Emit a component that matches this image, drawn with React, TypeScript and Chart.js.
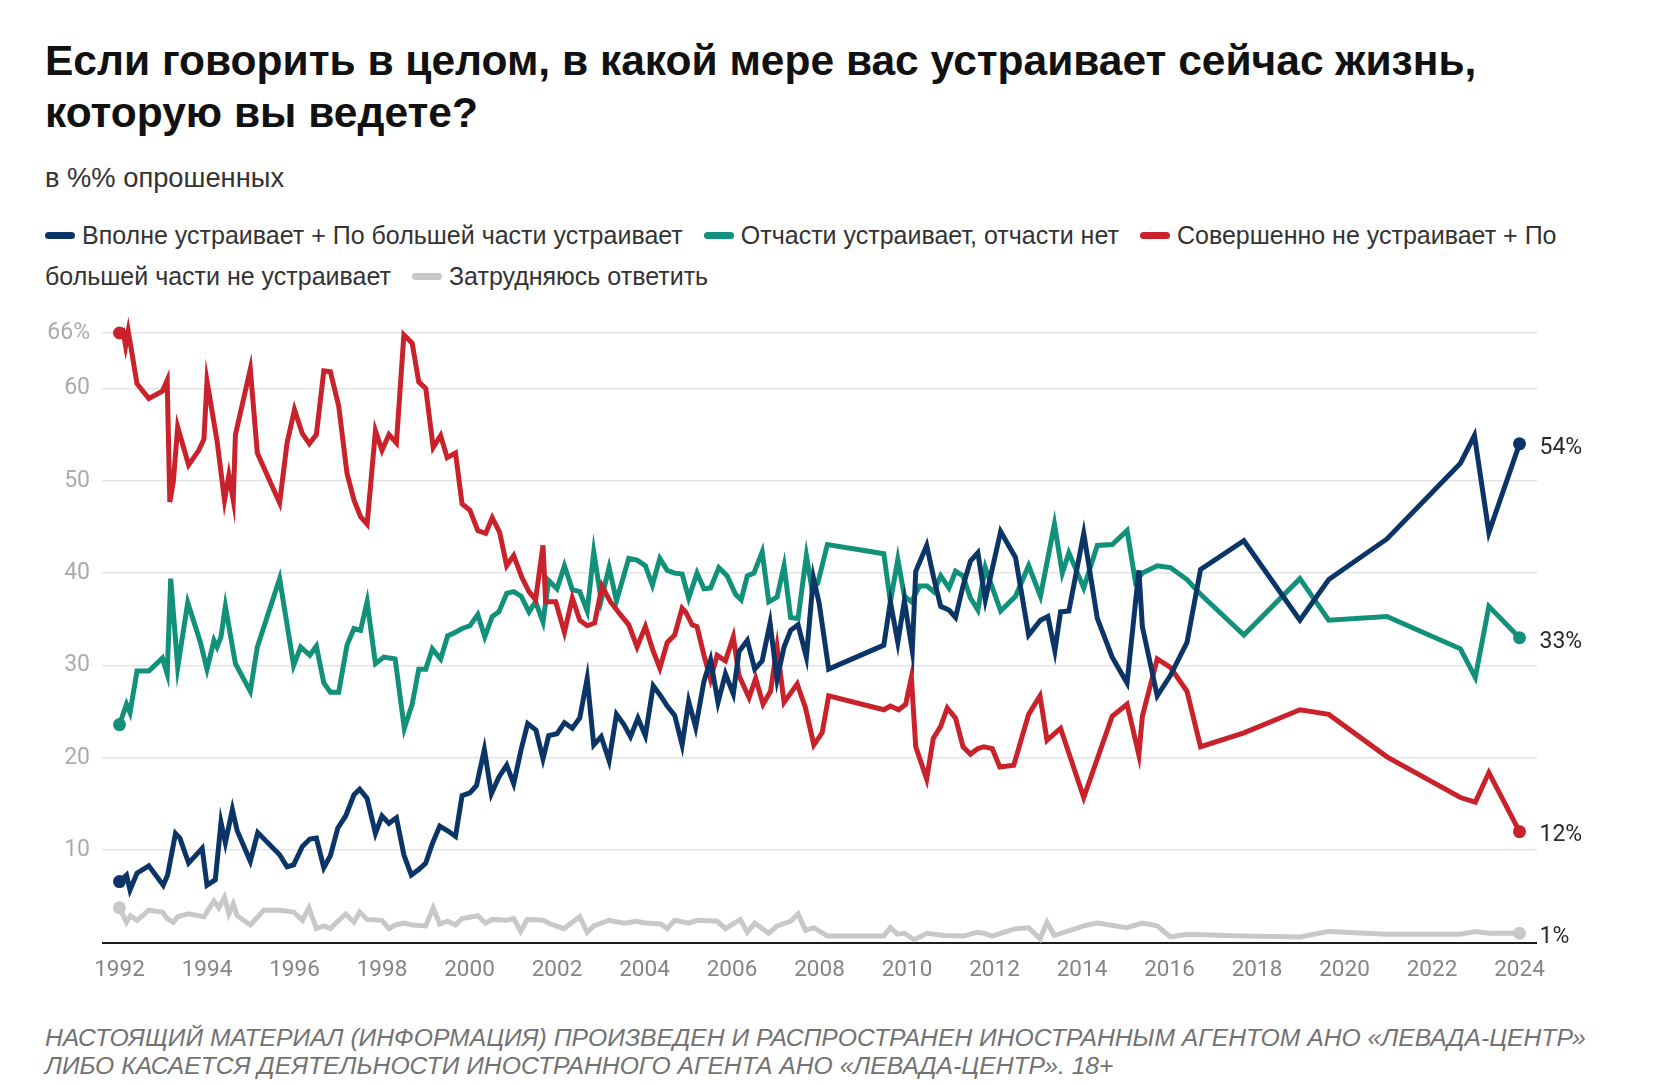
import React, { useEffect, useRef } from 'react';
import { Chart, registerables } from 'chart.js';

Chart.register(...registerables);

const NAVY = '#0b3566';
const TEAL = '#11907a';
const RED = '#c9222b';
const GRAY = '#c8c8c8';

const FONT_SANS = '"Liberation Sans", Arial, sans-serif';
const FONT_TICK = 'Roboto, "Liberation Sans", sans-serif';

const xTickYears = [1992, 1994, 1996, 1998, 2000, 2002, 2004, 2006, 2008, 2010, 2012, 2014, 2016, 2018, 2020, 2022, 2024];
const yTickValues = [0, 10, 20, 30, 40, 50, 60, 66];

const seriesNames = [
  'Вполне устраивает + По большей части устраивает',
  'Отчасти устраивает, отчасти нет',
  'Совершенно не устраивает + По большей части не устраивает',
  'Затрудняюсь ответить',
];

const blueDates = [
  1992.0, 1992.16, 1992.24, 1992.4, 1992.67, 1993.0, 1993.1, 1993.28, 1993.38, 1993.58, 1993.89, 1994.0, 1994.19,
  1994.32, 1994.42, 1994.58, 1994.69, 1994.99, 1995.16, 1995.66, 1995.83, 1995.98, 1996.18, 1996.35, 1996.5, 1996.67,
  1996.82, 1996.99, 1997.17, 1997.36, 1997.49, 1997.66, 1997.85, 1998.0, 1998.16, 1998.33, 1998.5, 1998.67, 1998.84,
  1999.0, 1999.15, 1999.32, 1999.5, 1999.68, 1999.83, 2000.01, 2000.16, 2000.34, 2000.5, 2000.67, 2000.85, 2001.01,
  2001.18, 2001.33, 2001.52, 2001.68, 2001.81, 2002.0, 2002.17, 2002.35, 2002.52, 2002.69, 2002.84, 2003.01, 2003.19,
  2003.36, 2003.53, 2003.68, 2003.85, 2004.02, 2004.2, 2004.37, 2004.52, 2004.69, 2004.86, 2005.01, 2005.17, 2005.36,
  2005.51, 2005.68, 2005.85, 2006.03, 2006.16, 2006.35, 2006.52, 2006.69, 2006.87, 2007.03, 2007.19, 2007.34, 2007.51,
  2007.7, 2007.86, 2007.99, 2008.21, 2009.47, 2009.62, 2009.79, 2009.94, 2010.12, 2010.2, 2010.45, 2010.61, 2010.77,
  2010.96, 2011.11, 2011.28, 2011.45, 2011.62, 2011.79, 2012.14, 2012.48, 2012.78, 2013.05, 2013.22, 2013.38, 2013.51,
  2013.7, 2014.04, 2014.35, 2014.69, 2015.03, 2015.3, 2015.38, 2015.72, 2016.02, 2016.4, 2016.71, 2017.7, 2018.98,
  2019.64, 2020.97, 2022.65, 2022.97, 2023.3, 2024.0,
];
const blueValues = [
  6.6, 7.3, 5.7, 7.5, 8.3, 6.2, 7.3, 11.8, 11.3, 8.6, 10.2, 6.2, 6.8,
  13.0, 10.8, 14.4, 12.1, 8.8, 11.9, 9.5, 8.2, 8.4, 10.4, 11.2, 11.3, 8.1,
  9.4, 12.4, 13.7, 16.0, 16.6, 15.6, 11.8, 13.7, 12.9, 13.5, 9.5, 7.3, 7.9,
  8.6, 10.7, 12.6, 12.1, 11.5, 15.9, 16.2, 17.0, 20.9, 16.1, 17.9, 19.2, 17.2,
  20.9, 23.7, 23.0, 19.9, 22.4, 22.6, 23.8, 23.2, 24.3, 28.6, 21.4, 22.3, 19.7,
  24.7, 23.6, 22.3, 24.3, 22.4, 27.8, 26.7, 25.6, 24.6, 21.4, 26.1, 23.3, 28.3,
  30.6, 26.0, 29.1, 26.9, 31.5, 32.7, 29.6, 30.5, 34.6, 28.5, 32.0, 33.8, 34.4,
  30.9, 39.5, 36.8, 29.6, 32.2, 36.9, 32.5, 37.0, 31.6, 40.2, 43.0, 39.5, 36.4,
  36.0, 35.2, 38.6, 41.3, 42.2, 37.1, 44.5, 41.7, 33.3, 34.9, 35.3, 31.6, 35.8,
  35.9, 44.3, 35.1, 30.9, 28.1, 40.3, 34.2, 26.7, 28.9, 32.5, 40.4, 43.5, 34.9,
  39.3, 43.7, 51.9, 54.9, 44.4, 54.0,
];

const greenDates = [
  1992.0, 1992.16, 1992.24, 1992.4, 1992.67, 1992.98, 1993.09, 1993.17, 1993.33, 1993.56, 1993.85, 1994.0, 1994.16,
  1994.23, 1994.32, 1994.42, 1994.65, 1994.99, 1995.15, 1995.66, 1995.98, 1996.14, 1996.35, 1996.5, 1996.67, 1996.82,
  1997.01, 1997.2, 1997.36, 1997.51, 1997.66, 1997.85, 1998.04, 1998.3, 1998.51, 1998.69, 1998.84, 1999.0, 1999.15,
  1999.34, 1999.5, 1999.68, 1999.83, 2000.01, 2000.19, 2000.35, 2000.52, 2000.67, 2000.85, 2001.01, 2001.18, 2001.36,
  2001.51, 2001.68, 2001.81, 2002.0, 2002.17, 2002.35, 2002.52, 2002.69, 2002.84, 2003.01, 2003.19, 2003.36, 2003.64,
  2003.83, 2004.02, 2004.18, 2004.35, 2004.52, 2004.69, 2004.86, 2005.01, 2005.2, 2005.36, 2005.51, 2005.7, 2005.89,
  2006.08, 2006.21, 2006.35, 2006.5, 2006.69, 2006.84, 2007.03, 2007.19, 2007.34, 2007.51, 2007.7, 2007.83, 2007.96,
  2008.18, 2009.47, 2009.62, 2009.79, 2009.94, 2010.1, 2010.29, 2010.46, 2010.61, 2010.77, 2010.96, 2011.11, 2011.28,
  2011.45, 2011.62, 2011.79, 2012.14, 2012.48, 2012.78, 2013.05, 2013.37, 2013.55, 2013.7, 2014.04, 2014.35, 2014.69,
  2015.03, 2015.22, 2015.38, 2015.72, 2016.02, 2016.4, 2016.71, 2017.7, 2018.98, 2019.64, 2020.97, 2022.65, 2022.99,
  2023.3, 2024.0,
];
const greenValues = [
  23.6, 25.8, 24.9, 29.4, 29.4, 30.8, 29.1, 39.4, 29.8, 36.8, 32.5, 29.6, 32.7,
  32.0, 33.1, 36.4, 30.2, 27.2, 32.0, 39.4, 30.0, 32.0, 31.1, 32.1, 28.1, 27.1,
  27.1, 32.2, 34.0, 33.8, 36.9, 30.2, 30.9, 30.7, 23.2, 25.8, 29.6, 29.6, 31.8,
  30.7, 33.2, 33.6, 34.0, 34.3, 35.5, 33.1, 35.3, 35.8, 37.8, 38.0, 37.5, 35.8,
  36.9, 34.7, 39.2, 38.3, 40.8, 38.2, 38.0, 35.9, 42.3, 37.1, 40.6, 37.0, 41.6,
  41.4, 40.8, 38.7, 41.6, 40.3, 40.0, 39.9, 37.3, 40.0, 38.3, 38.4, 40.6, 39.7,
  37.7, 37.1, 39.7, 40.0, 42.3, 36.9, 37.4, 40.8, 35.2, 35.1, 41.9, 38.2, 38.9,
  43.1, 42.1, 36.9, 41.5, 37.5, 36.9, 38.6, 38.6, 38.0, 39.7, 38.4, 40.2, 39.7,
  37.3, 36.0, 40.6, 35.9, 37.5, 40.8, 37.5, 45.3, 40.0, 42.2, 38.4, 43.0, 43.1,
  44.6, 39.1, 40.0, 40.8, 40.6, 39.3, 37.7, 33.3, 39.4, 34.9, 35.3, 31.8, 28.7,
  36.4, 33.0,
];

const redDates = [
  1992.0, 1992.08, 1992.14, 1992.2, 1992.4, 1992.67, 1992.98, 1993.09, 1993.15, 1993.23, 1993.33, 1993.58, 1993.81,
  1993.93, 1994.0, 1994.23, 1994.4, 1994.5, 1994.6, 1994.65, 1994.99, 1995.15, 1995.66, 1995.83, 1996.0, 1996.18,
  1996.34, 1996.5, 1996.67, 1996.82, 1997.01, 1997.2, 1997.36, 1997.51, 1997.66, 1997.85, 1998.0, 1998.16, 1998.33,
  1998.5, 1998.69, 1998.84, 1999.0, 1999.17, 1999.34, 1999.49, 1999.68, 1999.83, 2000.01, 2000.19, 2000.37, 2000.52,
  2000.69, 2000.85, 2001.01, 2001.2, 2001.36, 2001.51, 2001.68, 2001.74, 2001.97, 2002.17, 2002.35, 2002.52, 2002.69,
  2002.86, 2003.03, 2003.22, 2003.45, 2003.64, 2003.83, 2004.02, 2004.18, 2004.35, 2004.52, 2004.69, 2004.86, 2004.94,
  2005.09, 2005.2, 2005.36, 2005.51, 2005.66, 2005.85, 2006.03, 2006.16, 2006.39, 2006.54, 2006.71, 2006.88, 2007.03,
  2007.19, 2007.49, 2007.68, 2007.87, 2008.06, 2008.21, 2009.47, 2009.62, 2009.81, 2009.97, 2010.1, 2010.2, 2010.45,
  2010.6, 2010.77, 2010.92, 2011.11, 2011.28, 2011.45, 2011.62, 2011.76, 2011.95, 2012.12, 2012.44, 2012.78, 2013.04,
  2013.2, 2013.51, 2014.04, 2014.69, 2015.03, 2015.3, 2015.38, 2015.72, 2016.02, 2016.4, 2016.71, 2017.7, 2018.98,
  2019.64, 2020.97, 2022.65, 2022.99, 2023.3, 2024.0,
];
const redValues = [
  66.0, 66.2, 64.6, 66.2, 60.5, 58.9, 59.7, 60.9, 47.7, 49.9, 55.8, 51.7, 53.3,
  54.5, 60.8, 54.3, 47.9, 50.6, 47.9, 55.0, 62.1, 53.0, 47.6, 54.1, 57.7, 55.1,
  54.0, 55.0, 61.9, 61.8, 58.1, 50.8, 47.9, 46.1, 45.3, 55.4, 53.3, 55.0, 54.1,
  65.8, 64.9, 60.7, 60.0, 53.6, 54.9, 52.5, 53.0, 47.5, 46.8, 44.6, 44.3, 46.0,
  44.4, 40.8, 41.9, 39.5, 38.0, 37.1, 43.0, 36.9, 36.9, 33.6, 37.3, 34.9, 34.3,
  34.6, 38.6, 36.9, 35.5, 34.4, 32.0, 34.2, 31.8, 29.7, 32.5, 33.3, 36.2, 35.8,
  34.4, 34.2, 31.1, 28.5, 31.1, 30.5, 33.1, 28.9, 26.5, 28.6, 25.8, 27.2, 32.0,
  26.0, 28.0, 25.4, 21.4, 22.7, 26.7, 25.2, 25.6, 25.2, 25.8, 28.7, 21.2, 17.7,
  22.1, 23.4, 25.4, 24.3, 21.2, 20.4, 21.0, 21.2, 21.0, 19.0, 19.2, 24.7, 26.7,
  21.9, 23.2, 15.7, 24.5, 25.8, 20.3, 24.5, 30.7, 29.8, 27.2, 21.2, 22.7, 25.2,
  24.7, 20.1, 15.7, 15.2, 18.4, 12.0,
];

const grayDates = [
  1992.0, 1992.16, 1992.25, 1992.4, 1992.67, 1992.98, 1993.09, 1993.23, 1993.33, 1993.58, 1993.93, 1994.16, 1994.27,
  1994.4, 1994.5, 1994.6, 1994.69, 1994.99, 1995.3, 1995.68, 1995.98, 1996.18, 1996.33, 1996.5, 1996.67, 1996.82,
  1996.99, 1997.17, 1997.36, 1997.49, 1997.66, 1998.0, 1998.16, 1998.31, 1998.5, 1998.69, 1999.0, 1999.17, 1999.32,
  1999.5, 1999.68, 1999.83, 2000.19, 2000.37, 2000.52, 2000.85, 2001.01, 2001.17, 2001.32, 2001.68, 2001.85, 2002.16,
  2002.35, 2002.52, 2002.69, 2002.84, 2003.19, 2003.53, 2003.83, 2004.02, 2004.37, 2004.52, 2004.69, 2005.01, 2005.2,
  2005.66, 2005.85, 2006.19, 2006.35, 2006.52, 2006.84, 2007.03, 2007.34, 2007.51, 2007.68, 2007.87, 2008.18, 2009.47,
  2009.62, 2009.78, 2009.94, 2010.16, 2010.46, 2010.84, 2011.3, 2011.6, 2011.76, 2011.95, 2012.14, 2012.48, 2012.78,
  2013.04, 2013.2, 2013.37, 2014.04, 2014.35, 2015.03, 2015.38, 2015.72, 2016.02, 2016.4, 2017.7, 2018.98, 2019.64,
  2020.97, 2022.65, 2022.99, 2023.3, 2024.0,
];
const grayValues = [
  3.75, 2.2, 2.9, 2.4, 3.5, 3.3, 2.6, 2.2, 2.8, 3.1, 2.8, 4.5, 3.75,
  4.9, 3.1, 4.2, 2.9, 1.9, 3.5, 3.5, 3.3, 2.4, 3.75, 1.5, 1.8, 1.5,
  2.3, 3.1, 2.2, 3.3, 2.5, 2.4, 1.5, 1.9, 2.1, 1.9, 1.8, 3.75, 2.0,
  2.3, 1.9, 2.6, 2.9, 2.1, 2.5, 2.4, 2.6, 1.2, 2.5, 2.4, 2.0, 1.5,
  2.2, 2.8, 1.1, 1.8, 2.4, 2.1, 2.3, 2.1, 2.0, 1.5, 2.4, 2.1, 2.4,
  2.3, 1.5, 2.5, 1.1, 2.1, 1.0, 1.8, 2.3, 3.1, 1.3, 1.6, 0.7, 0.7,
  1.6, 0.9, 1.0, 0.3, 1.0, 0.75, 0.7, 1.1, 1.0, 0.7, 1.0, 1.5, 1.6,
  0.4, 2.2, 0.75, 1.8, 2.1, 1.6, 2.1, 1.8, 0.6, 0.9, 0.7, 0.6, 1.2,
  0.9, 0.9, 1.2, 1.0, 1.0,
];

const toPoints = (dates: number[], values: number[]) => dates.map((d, i) => ({ x: d, y: values[i] }));

const endLabelPlugin = {
  id: 'endLabels',
  afterDatasetsDraw(chart: any) {
    const ctx = chart.ctx;
    ctx.save();
    ctx.font = `23px ${FONT_TICK}`;
    ctx.fillStyle = '#2a2a2a';
    ctx.textAlign = 'left';
    ctx.textBaseline = 'middle';
    chart.data.datasets.forEach((ds: any, i: number) => {
      const meta = chart.getDatasetMeta(i);
      const last = meta.data[meta.data.length - 1];
      const v = ds.data[ds.data.length - 1].y;
      ctx.fillText(`${Math.round(v)}%`, last.x + 20, last.y + 4);
    });
    ctx.restore();
  },
};

function ChartCanvas() {
  const ref = useRef<HTMLCanvasElement | null>(null);
  useEffect(() => {
    if (!ref.current) return;
    const mk = (label: string, color: string, dates: number[], values: number[]) => ({
      label,
      data: toPoints(dates, values),
      borderColor: color,
      backgroundColor: color,
      borderWidth: 5,
      pointRadius: (c: any) => (c.dataIndex === 0 || c.dataIndex === c.dataset.data.length - 1 ? 6.5 : 0),
      pointBackgroundColor: color,
      pointBorderWidth: 0,
      tension: 0,
      fill: false,
      clip: false as any,
    });
    const chart = new Chart(ref.current, {
      type: 'line',
      data: {
        datasets: [
          mk(seriesNames[0], NAVY, blueDates, blueValues),
          mk(seriesNames[2], RED, redDates, redValues),
          mk(seriesNames[1], TEAL, greenDates, greenValues),
          mk(seriesNames[3], GRAY, grayDates, grayValues),
        ],
      },
      options: {
        responsive: false,
        animation: false,
        events: [],
        layout: { padding: { top: 33, right: 116, bottom: 27.5, left: 0 } },
        plugins: { legend: { display: false }, tooltip: { enabled: false } },
        scales: {
          x: {
            type: 'linear',
            min: 1991.6,
            max: 2024.4,
            border: { display: false },
            grid: { display: false, drawTicks: false },
            ticks: {
              color: '#858585',
              font: { family: FONT_TICK, size: 22.5 },
              padding: 14,
              maxRotation: 0,
              autoSkip: false,
              callback: (v: any) => String(v),
            },
            afterBuildTicks: (ax: any) => {
              ax.ticks = xTickYears.map((v) => ({ value: v }));
            },
            afterFit: (s: any) => {
              s.height = 50;
            },
          },
          y: {
            min: 0,
            max: 66,
            border: { display: false },
            grid: {
              drawTicks: false,
              color: (c: any) => (c.tick && c.tick.value === 0 ? '#1c1c1c' : '#e4e4e4'),
              lineWidth: (c: any) => (c.tick && c.tick.value === 0 ? 2 : 1.5),
            },
            ticks: {
              color: '#ababab',
              font: { family: FONT_TICK, size: 23 },
              padding: 12,
              autoSkip: false,
              callback: (v: any) => (v === 66 ? '66%' : v === 0 ? '' : String(v)),
            },
            afterBuildTicks: (ax: any) => {
              ax.ticks = yTickValues.map((v) => ({ value: v }));
            },
            afterFit: (s: any) => {
              s.width = 102;
            },
          },
        },
      },
      plugins: [endLabelPlugin],
    } as any);
    return () => chart.destroy();
  }, []);
  return (
    <canvas
      ref={ref}
      width={1653}
      height={720}
      style={{ position: 'absolute', left: 0, top: 300, width: 1653, height: 720, display: 'block' }}
    />
  );
}

const Marker = ({ color, first }: { color: string; first?: boolean }) => (
  <span
    style={{
      display: 'inline-block',
      width: 30,
      height: 7,
      borderRadius: 4,
      background: color,
      marginLeft: first ? 0 : 21,
      marginRight: 7,
      verticalAlign: 'middle',
      position: 'relative',
      top: -2,
    }}
  />
);

export default function App() {
  return (
    <div
      style={{
        position: 'absolute',
        left: 0,
        top: 0,
        width: 1653,
        height: 1085,
        background: '#fff',
        overflow: 'hidden',
        fontFamily: FONT_SANS,
      }}
    >
      <div
        style={{
          position: 'absolute',
          left: 45,
          top: 35,
          fontSize: 42.5,
          lineHeight: '52px',
          fontWeight: 700,
          color: '#111',
          whiteSpace: 'nowrap',
        }}
      >
        Если говорить в целом, в какой мере вас устраивает сейчас жизнь,
        <br />
        которую вы ведете?
      </div>
      <div style={{ position: 'absolute', left: 45, top: 163, fontSize: 27.3, lineHeight: '30px', color: '#333' }}>
        в %% опрошенных
      </div>
      <div
        style={{
          position: 'absolute',
          left: 45,
          top: 215,
          fontSize: 25,
          lineHeight: '41px',
          color: '#333',
          whiteSpace: 'nowrap',
        }}
      >
        <div>
          <Marker color={NAVY} first />
          {'Вполне устраивает + По большей части устраивает'}
          <Marker color={TEAL} />
          {'Отчасти устраивает, отчасти нет'}
          <Marker color={RED} />
          {'Совершенно не устраивает + По'}
        </div>
        <div>
          {'большей части не устраивает'}
          <Marker color={GRAY} />
          {'Затрудняюсь ответить'}
        </div>
      </div>
      <ChartCanvas />
      <div
        style={{
          position: 'absolute',
          left: 45,
          top: 1024,
          fontSize: 24.7,
          lineHeight: '28px',
          fontStyle: 'italic',
          color: '#727272',
          whiteSpace: 'nowrap',
        }}
      >
        НАСТОЯЩИЙ МАТЕРИАЛ (ИНФОРМАЦИЯ) ПРОИЗВЕДЕН И РАСПРОСТРАНЕН ИНОСТРАННЫМ АГЕНТОМ АНО «ЛЕВАДА-ЦЕНТР»
        <br />
        ЛИБО КАСАЕТСЯ ДЕЯТЕЛЬНОСТИ ИНОСТРАННОГО АГЕНТА АНО «ЛЕВАДА-ЦЕНТР». 18+
      </div>
    </div>
  );
}
